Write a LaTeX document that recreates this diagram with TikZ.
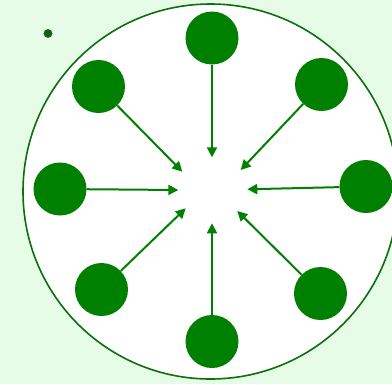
\documentclass[tikz,border=0pt]{standalone}
\usepackage{tikz}
\usetikzlibrary{arrows.meta,positioning,calc}
\definecolor{Leaf}{HTML}{008000}
\definecolor{Rim}{HTML}{0B700B}
\definecolor{Pale}{HTML}{E6FCE6}
\definecolor{Speck}{HTML}{1E5A1E}

\begin{document}
\begin{tikzpicture}[x=1pt,y=-1pt]
  \fill[Pale] (0,0) rectangle (392,384);
  \useasboundingbox (0,0) rectangle (392,384);
  \filldraw[fill=white,draw=Rim,line width=1.6pt] (210.5,191.5) circle (187.5);
  \fill[Speck] (48,33.5) circle (4.4);
  % satellite centre / arrow tip
  \foreach \i/\sx/\sy/\tx/\ty in {1/366/186.5/247.3/189.3, 2/320.5/293.5/237.3/211,
      3/212/341.5/212/223.3, 4/101.5/289.5/185.7/208.3, 5/60/189/178.3/190,
      6/98.5/86.5/182.3/171.7, 7/212/38/212/157.3, 8/321.5/84.5/240.7/170} {
    \node[circle,fill=Leaf,minimum size=53pt,inner sep=0pt] (s\i) at (\sx,\sy) {};
    \coordinate (t\i) at (\tx,\ty);
    \draw[-{Triangle[length=10pt,width=10pt]},Leaf,line width=2pt] (s\i) -- (t\i);
  }
\end{tikzpicture}
\end{document}
